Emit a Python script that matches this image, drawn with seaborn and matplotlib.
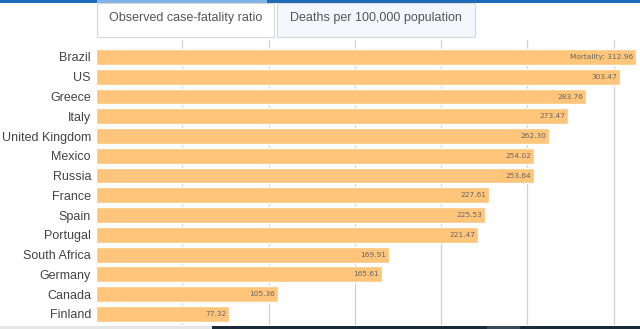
import matplotlib
matplotlib.use("Agg")
import matplotlib.pyplot as plt
import seaborn as sns
import pandas as pd
from matplotlib.patches import Rectangle

countries = ["Brazil", "US", "Greece", "Italy", "United Kingdom", "Mexico", "Russia",
             "France", "Spain", "Portugal", "South Africa", "Germany", "Canada", "Finland"]
deaths = [312.96, 303.47, 283.76, 273.47, 262.30, 254.02, 253.64,
          227.61, 225.53, 221.47, 169.91, 165.61, 105.36, 77.32]
tabs = ["Observed case-fatality ratio", "Deaths per 100,000 population"]
grid_ticks = [50, 100, 150, 200, 250, 300]

df = pd.DataFrame({"country": countries, "deaths": deaths})

sns.set_theme(style="white")
plt.rcParams['font.family'] = ['Liberation Sans', 'DejaVu Sans']

W, H = 640, 329
fig = plt.figure(figsize=(W / 100, H / 100), dpi=100)
ax = fig.add_axes([96 / W, 1 - 325 / H, (640 - 96) / W, (325 - 40) / H])

sns.barplot(data=df, x="deaths", y="country", color="#FFC57A", saturation=1,
            width=0.8, ax=ax, zorder=2)

ax.set_xlim(0, 315.3)
ax.set_ylim(13.56, -0.86)
ax.set_xticks(grid_ticks)
ax.xaxis.grid(True, color="#d0d0d0", lw=0.9, zorder=0)
ax.set_axisbelow(True)
ax.tick_params(axis="x", bottom=False, labelbottom=False)
ax.tick_params(axis="y", left=False, length=0, pad=3.6, labelsize=9,
               labelcolor="#444444")
ax.set_xlabel("")
ax.set_ylabel("")
for s in ax.spines.values():
    s.set_visible(False)

for i, v in enumerate(deaths):
    txt = f"{v:.2f}"
    if i == 0:
        txt = "Mortality: " + txt
    ax.text(v - 1.6, i, txt, ha="right", va="center", fontsize=5.3,
            color="#666666", zorder=3, family=['DejaVu Sans'])

# page chrome: top line, tabs, bottom bar
def px_rect(x0, y0, x1, y1, **kw):
    fig.patches.append(Rectangle((x0 / W, 1 - y1 / H), (x1 - x0) / W, (y1 - y0) / H,
                                 transform=fig.transFigure, **kw))

px_rect(0, 0, 640, 2.5, color="#1d6bb8", lw=0)
px_rect(97, 0, 267, 2.5, color="#7fb2e6", lw=0)
px_rect(97, 3, 274, 37, facecolor="white", edgecolor="#d8d8d8", lw=0.8)
px_rect(277, 3, 475, 37, facecolor="#f3f7fb", edgecolor="#d8d8d8", lw=0.8)
fig.text((97 + 274) / 2 / W, 1 - 18 / H, tabs[0], ha="center", va="center",
         fontsize=9, color="#555555")
fig.text((277 + 475) / 2 / W, 1 - 18 / H, tabs[1], ha="center", va="center",
         fontsize=9, color="#555555")
px_rect(0, 326, 212, 329, color="#e6e6e6", lw=0)
px_rect(212, 326, 640, 329, color="#1c2b38", lw=0)
px_rect(487, 326, 520, 329, color="#3a4a58", lw=0)

fig.savefig("out.png", dpi=100)
